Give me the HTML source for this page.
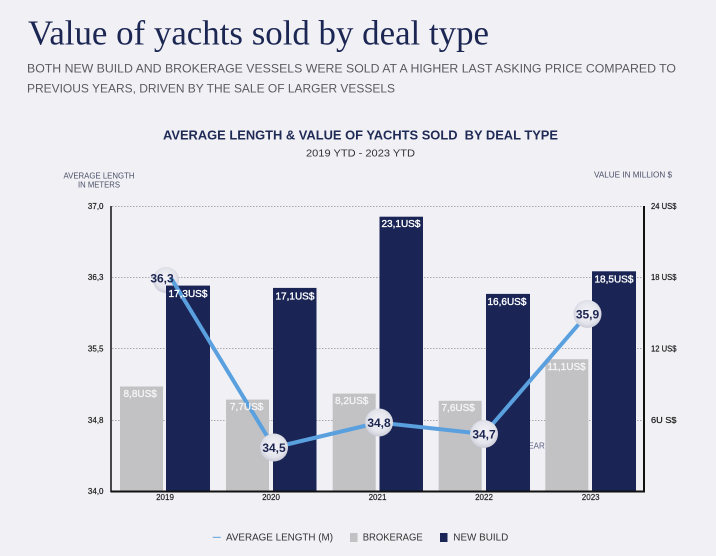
<!DOCTYPE html>
<html><head><meta charset="utf-8"><style>
html,body{margin:0;padding:0;background:#f0f0f5;}
svg{display:block;}
</style></head><body>
<svg width="716" height="556" viewBox="0 0 716 556" xmlns="http://www.w3.org/2000/svg">
<defs>
<radialGradient id="cg" cx="50%" cy="45%" r="55%">
<stop offset="0%" stop-color="#f4f4f8"/>
<stop offset="70%" stop-color="#e4e4ec"/>
<stop offset="100%" stop-color="#cbccd7"/>
</radialGradient>
</defs>
<rect width="716" height="556" fill="#f0f0f5"/>
<text x="28" y="44.5" font-family="Liberation Serif, serif" font-size="34.5" fill="#1c2653" textLength="461" lengthAdjust="spacingAndGlyphs">Value of yachts sold by deal type</text>
<text x="27" y="72.3" font-family="Liberation Sans, sans-serif" font-size="12.2" fill="#5b5b60" textLength="649" lengthAdjust="spacingAndGlyphs">BOTH NEW BUILD AND BROKERAGE VESSELS WERE SOLD AT A HIGHER LAST ASKING PRICE COMPARED TO</text>
<text x="27" y="92.3" font-family="Liberation Sans, sans-serif" font-size="12.2" fill="#5b5b60" textLength="368" lengthAdjust="spacingAndGlyphs">PREVIOUS YEARS, DRIVEN BY THE SALE OF LARGER VESSELS</text>
<text x="163" y="139.3" font-family="Liberation Sans, sans-serif" font-size="12.8" font-weight="bold" fill="#1f2a55" textLength="395" lengthAdjust="spacingAndGlyphs" xml:space="preserve">AVERAGE LENGTH &amp; VALUE OF YACHTS SOLD  BY DEAL TYPE</text>
<text x="306" y="156.7" font-family="Liberation Sans, sans-serif" font-size="10" fill="#333" textLength="109" lengthAdjust="spacingAndGlyphs">2019 YTD - 2023 YTD</text>
<text x="63.5" y="178.3" font-family="Liberation Sans, sans-serif" font-size="7.8" fill="#4a4f66" textLength="71" lengthAdjust="spacingAndGlyphs">AVERAGE LENGTH</text>
<text x="78" y="187.5" font-family="Liberation Sans, sans-serif" font-size="7.8" fill="#4a4f66" textLength="42" lengthAdjust="spacingAndGlyphs">IN METERS</text>
<text x="594" y="177.7" font-family="Liberation Sans, sans-serif" font-size="7.8" fill="#4a4f66" textLength="78" lengthAdjust="spacingAndGlyphs">VALUE IN MILLION $</text>

<g stroke="#a8a8ae" stroke-width="1" stroke-dasharray="1.5 1.5">
<line x1="112" y1="206.5" x2="643" y2="206.5"/>
<line x1="112" y1="277.5" x2="643" y2="277.5"/>
<line x1="112" y1="348.5" x2="643" y2="348.5"/>
<line x1="112" y1="420.5" x2="643" y2="420.5"/>
</g>

<g font-family="Liberation Sans, sans-serif" font-size="8" fill="#1a1a1a" stroke="#1a1a1a" stroke-width="0.2" text-anchor="end">
<text x="103.5" y="209">37,0</text>
<text x="103.5" y="280">36,3</text>
<text x="103.5" y="351.5">35,5</text>
<text x="103.5" y="423">34,8</text>
<text x="103.5" y="494">34,0</text>
</g>
<g font-family="Liberation Sans, sans-serif" font-size="8" fill="#1a1a1a" stroke="#1a1a1a" stroke-width="0.2">
<text x="651" y="209" textLength="25.5" lengthAdjust="spacingAndGlyphs">24 US$</text>
<text x="651" y="280" textLength="25.5" lengthAdjust="spacingAndGlyphs">18 US$</text>
<text x="651" y="351.5" textLength="25.5" lengthAdjust="spacingAndGlyphs">12 US$</text>
<text x="651" y="423" textLength="25.5" lengthAdjust="spacingAndGlyphs">6U S$</text>
</g>

<text x="523" y="448.5" font-family="Liberation Sans, sans-serif" font-size="8" fill="#5a6080">YEAR</text>

<circle cx="166" cy="280" r="13" fill="url(#cg)"/>

<g fill="#c2c2c5">
<rect x="120" y="386.5" width="43" height="104.5"/>
<rect x="226" y="399.6" width="43" height="91.4"/>
<rect x="332.7" y="393.6" width="43" height="97.4"/>
<rect x="438.7" y="400.8" width="43" height="90.2"/>
<rect x="545.3" y="359.2" width="43" height="131.8"/>
</g>
<g fill="#1a2556">
<rect x="166" y="285.6" width="44" height="205.4"/>
<rect x="273" y="287.9" width="43.5" height="203.1"/>
<rect x="379.5" y="216.7" width="43.5" height="274.3"/>
<rect x="486" y="293.9" width="44" height="197.1"/>
<rect x="592" y="271.3" width="44" height="219.7"/>
</g>

<g stroke="#111" fill="none">
<line x1="111" y1="206" x2="111" y2="492" stroke-width="1.5"/>
<line x1="644" y1="206" x2="644" y2="492" stroke-width="2"/>
<line x1="110.5" y1="491.5" x2="645" y2="491.5" stroke-width="2"/>
</g>

<g font-family="Liberation Sans, sans-serif" font-size="8" fill="#1a1a1a" stroke="#1a1a1a" stroke-width="0.15" text-anchor="middle">
<text x="165" y="499.8">2019</text>
<text x="271" y="499.8">2020</text>
<text x="377.5" y="499.8">2021</text>
<text x="484" y="499.8">2022</text>
<text x="590.7" y="499.8">2023</text>
</g>

<polyline points="171,278 274,447.5 379,422.5 484,434 587.5,314" fill="none" stroke="#5aa0de" stroke-width="4" stroke-linejoin="round"/>

<g font-family="Liberation Sans, sans-serif" font-size="10" fill="#ffffff" stroke="#ffffff" stroke-width="0.35">
<text x="168.5" y="297">17,3US$</text>
<text x="275.5" y="299.4">17,1US$</text>
<text x="381.5" y="227">23,1US$</text>
<text x="487.5" y="305">16,6US$</text>
<text x="594.5" y="282.3">18,5US$</text>
</g>
<g font-family="Liberation Sans, sans-serif" font-size="10" fill="#f4f4f6" stroke="#f4f4f6" stroke-width="0.35">
<text x="123.5" y="397">8,8US$</text>
<text x="230" y="410">7,7US$</text>
<text x="335" y="404">8,2US$</text>
<text x="441.5" y="411">7,6US$</text>
<text x="547.5" y="370">11,1US$</text>
</g>

<g fill="url(#cg)">
<circle cx="274" cy="447.5" r="14"/>
<circle cx="379" cy="422.5" r="14"/>
<circle cx="484" cy="434" r="14"/>
<circle cx="587.5" cy="314" r="14"/>
</g>
<g font-family="Liberation Sans, sans-serif" font-size="12" font-weight="bold" fill="#1c2550" text-anchor="middle">
<text x="162" y="282.3">36,3</text>
<text x="274" y="451.8">34,5</text>
<text x="379" y="426.8">34,8</text>
<text x="484" y="438.3">34,7</text>
<text x="587.5" y="318.3">35,9</text>
</g>

<line x1="212.7" y1="537.3" x2="220.7" y2="537.3" stroke="#5aa0de" stroke-width="1"/>
<text x="226" y="540.7" font-family="Liberation Sans, sans-serif" font-size="10" fill="#333" textLength="107" lengthAdjust="spacingAndGlyphs">AVERAGE LENGTH (M)</text>
<rect x="350" y="533" width="7.5" height="9" fill="#c2c2c5"/>
<text x="362.7" y="540.7" font-family="Liberation Sans, sans-serif" font-size="10" fill="#333" textLength="60" lengthAdjust="spacingAndGlyphs">BROKERAGE</text>
<rect x="440" y="533" width="7.5" height="9" fill="#1a2556"/>
<text x="453.3" y="540.7" font-family="Liberation Sans, sans-serif" font-size="10" fill="#333" textLength="55" lengthAdjust="spacingAndGlyphs">NEW BUILD</text>
</svg>
</body></html>
